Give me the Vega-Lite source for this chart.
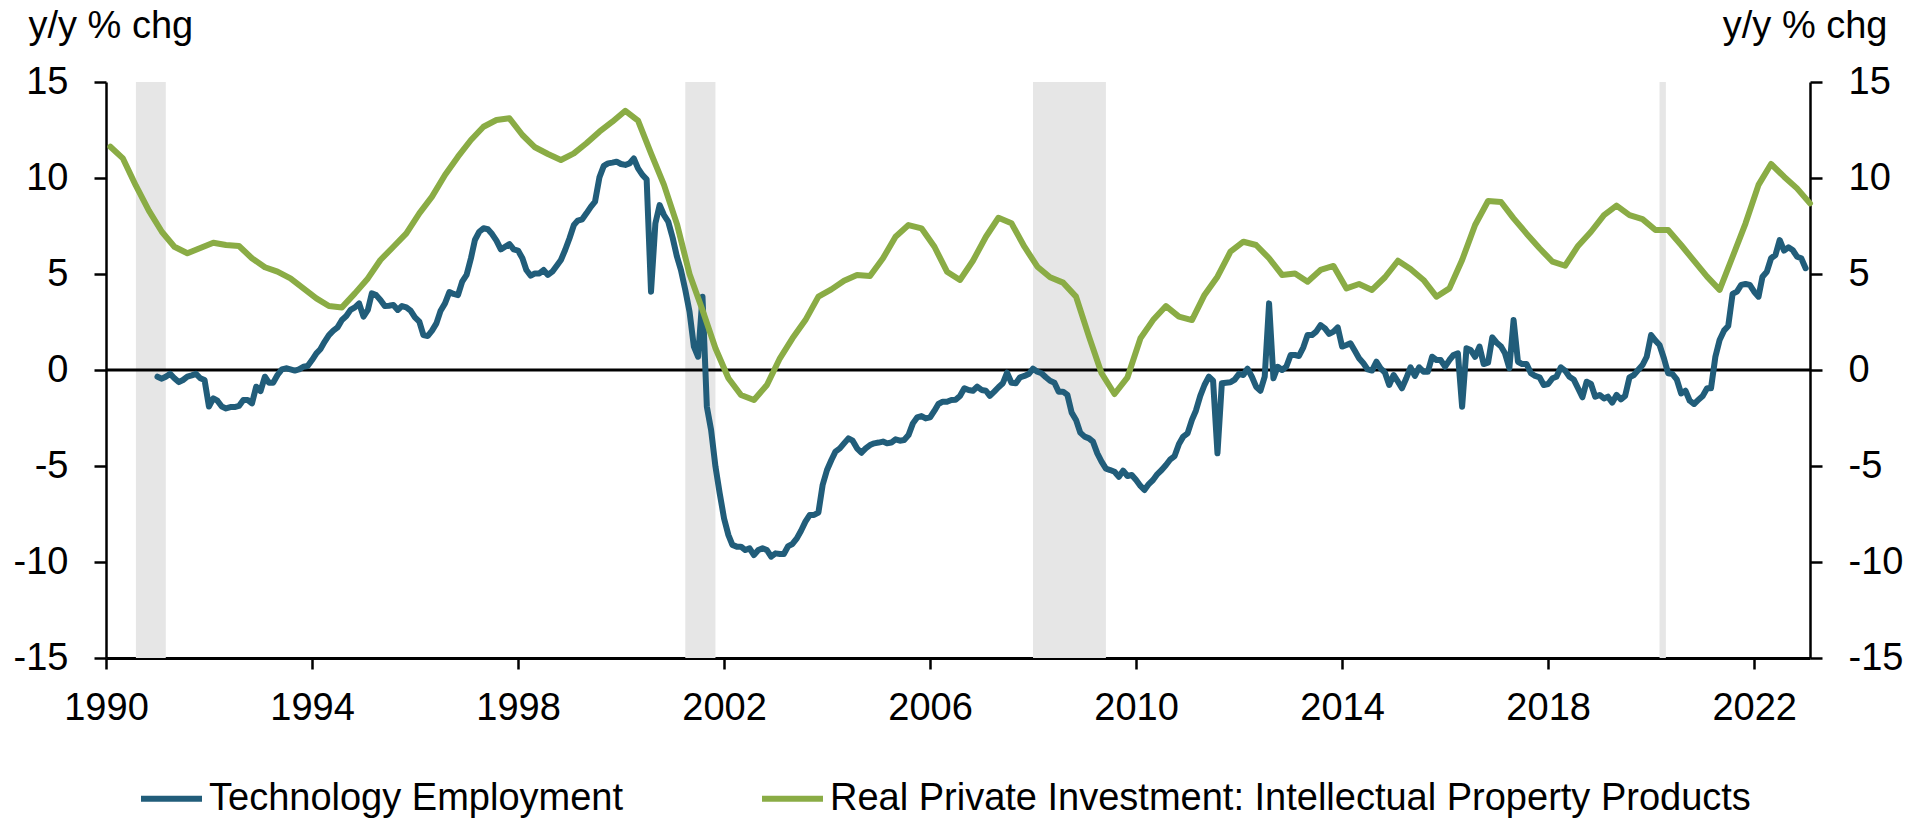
{
  "$schema": "https://vega.github.io/schema/vega-lite/v6.json",
  "width": 1704,
  "height": 576,
  "autosize": {"type": "none"},
  "padding": {"left": 106, "top": 82, "right": 113, "bottom": 163},
  "background": "white",
  "config": {
    "view": {"stroke": null},
    "font": "Liberation Sans",
    "axis": {
      "labelFont": "Liberation Sans",
      "labelFontSize": 38,
      "labelColor": "black",
      "domainColor": "black",
      "tickColor": "black",
      "grid": false,
      "titleFont": "Liberation Sans",
      "titleFontSize": 38,
      "titleFontWeight": "normal",
      "titleColor": "black"
    },
    "axisX": {
      "format": "%Y", "title": null, "tickSize": 11, "tickWidth": 2.5, "domainWidth": 3,
      "labelPadding": 20, "labelAngle": 0, "labelFlush": false, "labelOverlap": false
    }
  },
  "datasets": {
    "recessions": [
      {"start": "1990-08-01", "end": "1991-03-01"},
      {"start": "2001-04-01", "end": "2001-11-01"},
      {"start": "2008-01-01", "end": "2009-06-01"},
      {"start": "2020-03-01", "end": "2020-04-15"}
    ],
    "ipp": [
      {"date": "1990-02-01", "value": 11.63}, {"date": "1990-05-01", "value": 11.02}, {"date": "1990-08-01", "value": 9.6}, {"date": "1990-11-01", "value": 8.3},
      {"date": "1991-02-01", "value": 7.2}, {"date": "1991-05-01", "value": 6.42}, {"date": "1991-08-01", "value": 6.08}, {"date": "1991-11-01", "value": 6.35},
      {"date": "1992-02-01", "value": 6.63}, {"date": "1992-05-01", "value": 6.51}, {"date": "1992-08-01", "value": 6.46}, {"date": "1992-11-01", "value": 5.82},
      {"date": "1993-02-01", "value": 5.35}, {"date": "1993-05-01", "value": 5.12}, {"date": "1993-08-01", "value": 4.77}, {"date": "1993-11-01", "value": 4.25},
      {"date": "1994-02-01", "value": 3.73}, {"date": "1994-05-01", "value": 3.33}, {"date": "1994-08-01", "value": 3.26}, {"date": "1994-11-01", "value": 3.99},
      {"date": "1995-02-01", "value": 4.77}, {"date": "1995-05-01", "value": 5.73}, {"date": "1995-08-01", "value": 6.42}, {"date": "1995-11-01", "value": 7.12},
      {"date": "1996-02-01", "value": 8.16}, {"date": "1996-05-01", "value": 9.03}, {"date": "1996-08-01", "value": 10.16}, {"date": "1996-11-01", "value": 11.11},
      {"date": "1997-02-01", "value": 11.98}, {"date": "1997-05-01", "value": 12.67}, {"date": "1997-08-01", "value": 13.02}, {"date": "1997-11-01", "value": 13.11},
      {"date": "1998-02-01", "value": 12.24}, {"date": "1998-05-01", "value": 11.6}, {"date": "1998-08-01", "value": 11.25}, {"date": "1998-11-01", "value": 10.94},
      {"date": "1999-02-01", "value": 11.28}, {"date": "1999-05-01", "value": 11.81}, {"date": "1999-08-01", "value": 12.41}, {"date": "1999-11-01", "value": 12.93},
      {"date": "2000-02-01", "value": 13.5}, {"date": "2000-05-01", "value": 12.99}, {"date": "2000-08-01", "value": 11.28}, {"date": "2000-11-01", "value": 9.64},
      {"date": "2001-02-01", "value": 7.6}, {"date": "2001-05-01", "value": 5.0}, {"date": "2001-08-01", "value": 3.13}, {"date": "2001-11-01", "value": 1.13},
      {"date": "2002-02-01", "value": -0.43}, {"date": "2002-05-01", "value": -1.3}, {"date": "2002-08-01", "value": -1.56}, {"date": "2002-11-01", "value": -0.78},
      {"date": "2003-02-01", "value": 0.61}, {"date": "2003-05-01", "value": 1.65}, {"date": "2003-08-01", "value": 2.6}, {"date": "2003-11-01", "value": 3.82},
      {"date": "2004-02-01", "value": 4.2}, {"date": "2004-05-01", "value": 4.65}, {"date": "2004-08-01", "value": 4.95}, {"date": "2004-11-01", "value": 4.9},
      {"date": "2005-02-01", "value": 5.82}, {"date": "2005-05-01", "value": 6.94}, {"date": "2005-08-01", "value": 7.55}, {"date": "2005-11-01", "value": 7.38},
      {"date": "2006-02-01", "value": 6.42}, {"date": "2006-05-01", "value": 5.12}, {"date": "2006-08-01", "value": 4.69}, {"date": "2006-11-01", "value": 5.69},
      {"date": "2007-02-01", "value": 6.94}, {"date": "2007-05-01", "value": 7.93}, {"date": "2007-08-01", "value": 7.64}, {"date": "2007-11-01", "value": 6.42},
      {"date": "2008-02-01", "value": 5.38}, {"date": "2008-05-01", "value": 4.83}, {"date": "2008-08-01", "value": 4.55}, {"date": "2008-11-01", "value": 3.82},
      {"date": "2009-02-01", "value": 1.74}, {"date": "2009-05-01", "value": -0.17}, {"date": "2009-08-01", "value": -1.25}, {"date": "2009-11-01", "value": -0.38},
      {"date": "2010-02-01", "value": 1.65}, {"date": "2010-05-01", "value": 2.6}, {"date": "2010-08-01", "value": 3.33}, {"date": "2010-11-01", "value": 2.78},
      {"date": "2011-02-01", "value": 2.6}, {"date": "2011-05-01", "value": 3.91}, {"date": "2011-08-01", "value": 4.86}, {"date": "2011-11-01", "value": 6.16},
      {"date": "2012-02-01", "value": 6.68}, {"date": "2012-05-01", "value": 6.51}, {"date": "2012-08-01", "value": 5.82}, {"date": "2012-11-01", "value": 4.95},
      {"date": "2013-02-01", "value": 5.03}, {"date": "2013-05-01", "value": 4.6}, {"date": "2013-08-01", "value": 5.21}, {"date": "2013-11-01", "value": 5.42},
      {"date": "2014-02-01", "value": 4.25}, {"date": "2014-05-01", "value": 4.48}, {"date": "2014-08-01", "value": 4.17}, {"date": "2014-11-01", "value": 4.83},
      {"date": "2015-02-01", "value": 5.69}, {"date": "2015-05-01", "value": 5.26}, {"date": "2015-08-01", "value": 4.69}, {"date": "2015-11-01", "value": 3.82},
      {"date": "2016-02-01", "value": 4.25}, {"date": "2016-05-01", "value": 5.73}, {"date": "2016-08-01", "value": 7.55}, {"date": "2016-11-01", "value": 8.8},
      {"date": "2017-02-01", "value": 8.75}, {"date": "2017-05-01", "value": 7.9}, {"date": "2017-08-01", "value": 7.1}, {"date": "2017-11-01", "value": 6.34},
      {"date": "2018-02-01", "value": 5.64}, {"date": "2018-05-01", "value": 5.43}, {"date": "2018-08-01", "value": 6.46}, {"date": "2018-11-01", "value": 7.2},
      {"date": "2019-02-01", "value": 8.07}, {"date": "2019-05-01", "value": 8.56}, {"date": "2019-08-01", "value": 8.07}, {"date": "2019-11-01", "value": 7.86},
      {"date": "2020-02-01", "value": 7.29}, {"date": "2020-05-01", "value": 7.29}, {"date": "2020-08-01", "value": 6.51}, {"date": "2020-11-01", "value": 5.68},
      {"date": "2021-02-01", "value": 4.86}, {"date": "2021-05-01", "value": 4.17}, {"date": "2021-08-01", "value": 5.9}, {"date": "2021-11-01", "value": 7.64},
      {"date": "2022-02-01", "value": 9.64}, {"date": "2022-05-01", "value": 10.73}, {"date": "2022-08-01", "value": 10.07}, {"date": "2022-11-01", "value": 9.46},
      {"date": "2023-02-01", "value": 8.68}
    ],
    "tech": [
      {"date": "1991-01-01", "value": -0.35}, {"date": "1991-02-01", "value": -0.45}, {"date": "1991-03-01", "value": -0.35}, {"date": "1991-04-01", "value": -0.2}, {"date": "1991-05-01", "value": -0.43}, {"date": "1991-06-01", "value": -0.63}, {"date": "1991-07-01", "value": -0.52}, {"date": "1991-08-01", "value": -0.35}, {"date": "1991-09-01", "value": -0.28}, {"date": "1991-10-01", "value": -0.2}, {"date": "1991-11-01", "value": -0.43}, {"date": "1991-12-01", "value": -0.52},
      {"date": "1992-01-01", "value": -1.9}, {"date": "1992-02-01", "value": -1.48}, {"date": "1992-03-01", "value": -1.6}, {"date": "1992-04-01", "value": -1.9}, {"date": "1992-05-01", "value": -2.0}, {"date": "1992-06-01", "value": -1.93}, {"date": "1992-07-01", "value": -1.93}, {"date": "1992-08-01", "value": -1.87}, {"date": "1992-09-01", "value": -1.56}, {"date": "1992-10-01", "value": -1.56}, {"date": "1992-11-01", "value": -1.74}, {"date": "1992-12-01", "value": -0.87},
      {"date": "1993-01-01", "value": -1.1}, {"date": "1993-02-01", "value": -0.35}, {"date": "1993-03-01", "value": -0.66}, {"date": "1993-04-01", "value": -0.66}, {"date": "1993-05-01", "value": -0.26}, {"date": "1993-06-01", "value": 0.03}, {"date": "1993-07-01", "value": 0.09}, {"date": "1993-08-01", "value": 0.03}, {"date": "1993-09-01", "value": -0.03}, {"date": "1993-10-01", "value": 0.03}, {"date": "1993-11-01", "value": 0.17}, {"date": "1993-12-01", "value": 0.21},
      {"date": "1994-01-01", "value": 0.52}, {"date": "1994-02-01", "value": 0.87}, {"date": "1994-03-01", "value": 1.08}, {"date": "1994-04-01", "value": 1.48}, {"date": "1994-05-01", "value": 1.82}, {"date": "1994-06-01", "value": 2.05}, {"date": "1994-07-01", "value": 2.22}, {"date": "1994-08-01", "value": 2.6}, {"date": "1994-09-01", "value": 2.81}, {"date": "1994-10-01", "value": 3.13}, {"date": "1994-11-01", "value": 3.26}, {"date": "1994-12-01", "value": 3.47},
      {"date": "1995-01-01", "value": 2.78}, {"date": "1995-02-01", "value": 3.13}, {"date": "1995-03-01", "value": 3.99}, {"date": "1995-04-01", "value": 3.9}, {"date": "1995-05-01", "value": 3.65}, {"date": "1995-06-01", "value": 3.33}, {"date": "1995-07-01", "value": 3.35}, {"date": "1995-08-01", "value": 3.39}, {"date": "1995-09-01", "value": 3.13}, {"date": "1995-10-01", "value": 3.33}, {"date": "1995-11-01", "value": 3.26}, {"date": "1995-12-01", "value": 3.09},
      {"date": "1996-01-01", "value": 2.74}, {"date": "1996-02-01", "value": 2.52}, {"date": "1996-03-01", "value": 1.82}, {"date": "1996-04-01", "value": 1.77}, {"date": "1996-05-01", "value": 2.05}, {"date": "1996-06-01", "value": 2.43}, {"date": "1996-07-01", "value": 3.09}, {"date": "1996-08-01", "value": 3.47}, {"date": "1996-09-01", "value": 4.06}, {"date": "1996-10-01", "value": 3.96}, {"date": "1996-11-01", "value": 3.9}, {"date": "1996-12-01", "value": 4.6},
      {"date": "1997-01-01", "value": 4.95}, {"date": "1997-02-01", "value": 5.82}, {"date": "1997-03-01", "value": 6.77}, {"date": "1997-04-01", "value": 7.2}, {"date": "1997-05-01", "value": 7.38}, {"date": "1997-06-01", "value": 7.33}, {"date": "1997-07-01", "value": 7.08}, {"date": "1997-08-01", "value": 6.74}, {"date": "1997-09-01", "value": 6.28}, {"date": "1997-10-01", "value": 6.42}, {"date": "1997-11-01", "value": 6.56}, {"date": "1997-12-01", "value": 6.28},
      {"date": "1998-01-01", "value": 6.22}, {"date": "1998-02-01", "value": 5.82}, {"date": "1998-03-01", "value": 5.21}, {"date": "1998-04-01", "value": 4.91}, {"date": "1998-05-01", "value": 5.03}, {"date": "1998-06-01", "value": 5.03}, {"date": "1998-07-01", "value": 5.21}, {"date": "1998-08-01", "value": 4.95}, {"date": "1998-09-01", "value": 5.12}, {"date": "1998-10-01", "value": 5.42}, {"date": "1998-11-01", "value": 5.73}, {"date": "1998-12-01", "value": 6.25},
      {"date": "1999-01-01", "value": 6.86}, {"date": "1999-02-01", "value": 7.55}, {"date": "1999-03-01", "value": 7.78}, {"date": "1999-04-01", "value": 7.85}, {"date": "1999-05-01", "value": 8.16}, {"date": "1999-06-01", "value": 8.5}, {"date": "1999-07-01", "value": 8.77}, {"date": "1999-08-01", "value": 10.03}, {"date": "1999-09-01", "value": 10.63}, {"date": "1999-10-01", "value": 10.76}, {"date": "1999-11-01", "value": 10.8}, {"date": "1999-12-01", "value": 10.85},
      {"date": "2000-01-01", "value": 10.73}, {"date": "2000-02-01", "value": 10.68}, {"date": "2000-03-01", "value": 10.76}, {"date": "2000-04-01", "value": 11.02}, {"date": "2000-05-01", "value": 10.5}, {"date": "2000-06-01", "value": 10.16}, {"date": "2000-07-01", "value": 9.93}, {"date": "2000-08-01", "value": 4.08}, {"date": "2000-09-01", "value": 7.64}, {"date": "2000-10-01", "value": 8.59}, {"date": "2000-11-01", "value": 8.07}, {"date": "2000-12-01", "value": 7.73},
      {"date": "2001-01-01", "value": 6.9}, {"date": "2001-02-01", "value": 5.9}, {"date": "2001-03-01", "value": 5.21}, {"date": "2001-04-01", "value": 4.17}, {"date": "2001-05-01", "value": 3.04}, {"date": "2001-06-01", "value": 1.22}, {"date": "2001-07-01", "value": 0.69}, {"date": "2001-08-01", "value": 3.82}, {"date": "2001-09-01", "value": -1.91}, {"date": "2001-10-01", "value": -3.12}, {"date": "2001-11-01", "value": -5.03}, {"date": "2001-12-01", "value": -6.42},
      {"date": "2002-01-01", "value": -7.73}, {"date": "2002-02-01", "value": -8.6}, {"date": "2002-03-01", "value": -9.11}, {"date": "2002-04-01", "value": -9.2}, {"date": "2002-05-01", "value": -9.2}, {"date": "2002-06-01", "value": -9.38}, {"date": "2002-07-01", "value": -9.29}, {"date": "2002-08-01", "value": -9.64}, {"date": "2002-09-01", "value": -9.38}, {"date": "2002-10-01", "value": -9.29}, {"date": "2002-11-01", "value": -9.38}, {"date": "2002-12-01", "value": -9.72},
      {"date": "2003-01-01", "value": -9.55}, {"date": "2003-02-01", "value": -9.58}, {"date": "2003-03-01", "value": -9.58}, {"date": "2003-04-01", "value": -9.17}, {"date": "2003-05-01", "value": -9.06}, {"date": "2003-06-01", "value": -8.77}, {"date": "2003-07-01", "value": -8.37}, {"date": "2003-08-01", "value": -7.9}, {"date": "2003-09-01", "value": -7.55}, {"date": "2003-10-01", "value": -7.55}, {"date": "2003-11-01", "value": -7.43}, {"date": "2003-12-01", "value": -5.99},
      {"date": "2004-01-01", "value": -5.21}, {"date": "2004-02-01", "value": -4.69}, {"date": "2004-03-01", "value": -4.25}, {"date": "2004-04-01", "value": -4.08}, {"date": "2004-05-01", "value": -3.82}, {"date": "2004-06-01", "value": -3.56}, {"date": "2004-07-01", "value": -3.68}, {"date": "2004-08-01", "value": -4.08}, {"date": "2004-09-01", "value": -4.31}, {"date": "2004-10-01", "value": -4.08}, {"date": "2004-11-01", "value": -3.91}, {"date": "2004-12-01", "value": -3.82},
      {"date": "2005-01-01", "value": -3.78}, {"date": "2005-02-01", "value": -3.73}, {"date": "2005-03-01", "value": -3.82}, {"date": "2005-04-01", "value": -3.78}, {"date": "2005-05-01", "value": -3.61}, {"date": "2005-06-01", "value": -3.68}, {"date": "2005-07-01", "value": -3.65}, {"date": "2005-08-01", "value": -3.39}, {"date": "2005-09-01", "value": -2.78}, {"date": "2005-10-01", "value": -2.47}, {"date": "2005-11-01", "value": -2.4}, {"date": "2005-12-01", "value": -2.52},
      {"date": "2006-01-01", "value": -2.47}, {"date": "2006-02-01", "value": -2.12}, {"date": "2006-03-01", "value": -1.77}, {"date": "2006-04-01", "value": -1.65}, {"date": "2006-05-01", "value": -1.65}, {"date": "2006-06-01", "value": -1.56}, {"date": "2006-07-01", "value": -1.55}, {"date": "2006-08-01", "value": -1.35}, {"date": "2006-09-01", "value": -0.95}, {"date": "2006-10-01", "value": -1.04}, {"date": "2006-11-01", "value": -1.08}, {"date": "2006-12-01", "value": -0.87},
      {"date": "2007-01-01", "value": -1.04}, {"date": "2007-02-01", "value": -1.08}, {"date": "2007-03-01", "value": -1.35}, {"date": "2007-04-01", "value": -1.13}, {"date": "2007-05-01", "value": -0.9}, {"date": "2007-06-01", "value": -0.69}, {"date": "2007-07-01", "value": -0.14}, {"date": "2007-08-01", "value": -0.66}, {"date": "2007-09-01", "value": -0.69}, {"date": "2007-10-01", "value": -0.38}, {"date": "2007-11-01", "value": -0.31}, {"date": "2007-12-01", "value": -0.21},
      {"date": "2008-01-01", "value": 0.07}, {"date": "2008-02-01", "value": -0.09}, {"date": "2008-03-01", "value": -0.17}, {"date": "2008-04-01", "value": -0.38}, {"date": "2008-05-01", "value": -0.56}, {"date": "2008-06-01", "value": -0.66}, {"date": "2008-07-01", "value": -1.13}, {"date": "2008-08-01", "value": -1.13}, {"date": "2008-09-01", "value": -1.3}, {"date": "2008-10-01", "value": -2.22}, {"date": "2008-11-01", "value": -2.6}, {"date": "2008-12-01", "value": -3.26},
      {"date": "2009-01-01", "value": -3.47}, {"date": "2009-02-01", "value": -3.56}, {"date": "2009-03-01", "value": -3.73}, {"date": "2009-04-01", "value": -4.34}, {"date": "2009-05-01", "value": -4.77}, {"date": "2009-06-01", "value": -5.14}, {"date": "2009-07-01", "value": -5.21}, {"date": "2009-08-01", "value": -5.3}, {"date": "2009-09-01", "value": -5.56}, {"date": "2009-10-01", "value": -5.24}, {"date": "2009-11-01", "value": -5.52}, {"date": "2009-12-01", "value": -5.47},
      {"date": "2010-01-01", "value": -5.73}, {"date": "2010-02-01", "value": -6.04}, {"date": "2010-03-01", "value": -6.25}, {"date": "2010-04-01", "value": -5.94}, {"date": "2010-05-01", "value": -5.73}, {"date": "2010-06-01", "value": -5.42}, {"date": "2010-07-01", "value": -5.21}, {"date": "2010-08-01", "value": -4.95}, {"date": "2010-09-01", "value": -4.65}, {"date": "2010-10-01", "value": -4.48}, {"date": "2010-11-01", "value": -3.85}, {"date": "2010-12-01", "value": -3.47},
      {"date": "2011-01-01", "value": -3.3}, {"date": "2011-02-01", "value": -2.6}, {"date": "2011-03-01", "value": -2.12}, {"date": "2011-04-01", "value": -1.35}, {"date": "2011-05-01", "value": -0.78}, {"date": "2011-06-01", "value": -0.35}, {"date": "2011-07-01", "value": -0.56}, {"date": "2011-08-01", "value": -4.34}, {"date": "2011-09-01", "value": -0.69}, {"date": "2011-10-01", "value": -0.66}, {"date": "2011-11-01", "value": -0.64}, {"date": "2011-12-01", "value": -0.5},
      {"date": "2012-01-01", "value": -0.2}, {"date": "2012-02-01", "value": -0.26}, {"date": "2012-03-01", "value": 0.07}, {"date": "2012-04-01", "value": -0.35}, {"date": "2012-05-01", "value": -0.87}, {"date": "2012-06-01", "value": -1.08}, {"date": "2012-07-01", "value": -0.35}, {"date": "2012-08-01", "value": 3.47}, {"date": "2012-09-01", "value": -0.43}, {"date": "2012-10-01", "value": 0.17}, {"date": "2012-11-01", "value": 0.0}, {"date": "2012-12-01", "value": 0.17},
      {"date": "2013-01-01", "value": 0.78}, {"date": "2013-02-01", "value": 0.78}, {"date": "2013-03-01", "value": 0.73}, {"date": "2013-04-01", "value": 1.18}, {"date": "2013-05-01", "value": 1.82}, {"date": "2013-06-01", "value": 1.82}, {"date": "2013-07-01", "value": 2.0}, {"date": "2013-08-01", "value": 2.34}, {"date": "2013-09-01", "value": 2.17}, {"date": "2013-10-01", "value": 1.88}, {"date": "2013-11-01", "value": 2.0}, {"date": "2013-12-01", "value": 2.22},
      {"date": "2014-01-01", "value": 1.22}, {"date": "2014-02-01", "value": 1.3}, {"date": "2014-03-01", "value": 1.39}, {"date": "2014-04-01", "value": 1.0}, {"date": "2014-05-01", "value": 0.61}, {"date": "2014-06-01", "value": 0.35}, {"date": "2014-07-01", "value": 0.03}, {"date": "2014-08-01", "value": -0.03}, {"date": "2014-09-01", "value": 0.43}, {"date": "2014-10-01", "value": 0.09}, {"date": "2014-11-01", "value": -0.14}, {"date": "2014-12-01", "value": -0.78},
      {"date": "2015-01-01", "value": -0.26}, {"date": "2015-02-01", "value": -0.61}, {"date": "2015-03-01", "value": -0.95}, {"date": "2015-04-01", "value": -0.43}, {"date": "2015-05-01", "value": 0.14}, {"date": "2015-06-01", "value": -0.31}, {"date": "2015-07-01", "value": 0.14}, {"date": "2015-08-01", "value": -0.09}, {"date": "2015-09-01", "value": -0.09}, {"date": "2015-10-01", "value": 0.69}, {"date": "2015-11-01", "value": 0.52}, {"date": "2015-12-01", "value": 0.52},
      {"date": "2016-01-01", "value": 0.17}, {"date": "2016-02-01", "value": 0.52}, {"date": "2016-03-01", "value": 0.78}, {"date": "2016-04-01", "value": 0.87}, {"date": "2016-05-01", "value": -1.91}, {"date": "2016-06-01", "value": 1.13}, {"date": "2016-07-01", "value": 1.04}, {"date": "2016-08-01", "value": 0.69}, {"date": "2016-09-01", "value": 1.22}, {"date": "2016-10-01", "value": 0.31}, {"date": "2016-11-01", "value": 0.38}, {"date": "2016-12-01", "value": 1.7},
      {"date": "2017-01-01", "value": 1.42}, {"date": "2017-02-01", "value": 1.22}, {"date": "2017-03-01", "value": 0.87}, {"date": "2017-04-01", "value": 0.09}, {"date": "2017-05-01", "value": 2.6}, {"date": "2017-06-01", "value": 0.43}, {"date": "2017-07-01", "value": 0.31}, {"date": "2017-08-01", "value": 0.31}, {"date": "2017-09-01", "value": -0.17}, {"date": "2017-10-01", "value": -0.31}, {"date": "2017-11-01", "value": -0.38}, {"date": "2017-12-01", "value": -0.78},
      {"date": "2018-01-01", "value": -0.73}, {"date": "2018-02-01", "value": -0.43}, {"date": "2018-03-01", "value": -0.35}, {"date": "2018-04-01", "value": 0.14}, {"date": "2018-05-01", "value": -0.03}, {"date": "2018-06-01", "value": -0.35}, {"date": "2018-07-01", "value": -0.49}, {"date": "2018-08-01", "value": -0.95}, {"date": "2018-09-01", "value": -1.42}, {"date": "2018-10-01", "value": -0.61}, {"date": "2018-11-01", "value": -0.73}, {"date": "2018-12-01", "value": -1.39},
      {"date": "2019-01-01", "value": -1.3}, {"date": "2019-02-01", "value": -1.48}, {"date": "2019-03-01", "value": -1.39}, {"date": "2019-04-01", "value": -1.7}, {"date": "2019-05-01", "value": -1.3}, {"date": "2019-06-01", "value": -1.53}, {"date": "2019-07-01", "value": -1.35}, {"date": "2019-08-01", "value": -0.38}, {"date": "2019-09-01", "value": -0.26}, {"date": "2019-10-01", "value": 0.0}, {"date": "2019-11-01", "value": 0.26}, {"date": "2019-12-01", "value": 0.69},
      {"date": "2020-01-01", "value": 1.82}, {"date": "2020-02-01", "value": 1.53}, {"date": "2020-03-01", "value": 1.3}, {"date": "2020-04-01", "value": 0.61}, {"date": "2020-05-01", "value": -0.17}, {"date": "2020-06-01", "value": -0.21}, {"date": "2020-07-01", "value": -0.49}, {"date": "2020-08-01", "value": -1.22}, {"date": "2020-09-01", "value": -1.08}, {"date": "2020-10-01", "value": -1.6}, {"date": "2020-11-01", "value": -1.77}, {"date": "2020-12-01", "value": -1.56},
      {"date": "2021-01-01", "value": -1.35}, {"date": "2021-02-01", "value": -0.95}, {"date": "2021-03-01", "value": -0.95}, {"date": "2021-04-01", "value": 0.69}, {"date": "2021-05-01", "value": 1.56}, {"date": "2021-06-01", "value": 2.05}, {"date": "2021-07-01", "value": 2.29}, {"date": "2021-08-01", "value": 3.96}, {"date": "2021-09-01", "value": 4.08}, {"date": "2021-10-01", "value": 4.43}, {"date": "2021-11-01", "value": 4.48}, {"date": "2021-12-01", "value": 4.43},
      {"date": "2022-01-01", "value": 4.08}, {"date": "2022-02-01", "value": 3.82}, {"date": "2022-03-01", "value": 4.86}, {"date": "2022-04-01", "value": 5.12}, {"date": "2022-05-01", "value": 5.82}, {"date": "2022-06-01", "value": 5.99}, {"date": "2022-07-01", "value": 6.77}, {"date": "2022-08-01", "value": 6.22}, {"date": "2022-09-01", "value": 6.39}, {"date": "2022-10-01", "value": 6.25}, {"date": "2022-11-01", "value": 5.9}, {"date": "2022-12-01", "value": 5.82},
      {"date": "2023-01-01", "value": 5.3}
    ]
  },
  "layer": [
    {
      "data": {"name": "recessions"},
      "mark": {"type": "rect", "color": "#e6e6e6"},
      "encoding": {
        "x": {
          "field": "start", "type": "temporal", "title": null,
          "scale": {"domain": [{"year": 1990, "month": 1, "date": 1}, {"year": 2023, "month": 2, "date": 1}]},
          "axis": {
            "values": [{"year": 1990, "month": 1, "date": 1}, {"year": 1994, "month": 1, "date": 1}, {"year": 1998, "month": 1, "date": 1}, {"year": 2002, "month": 1, "date": 1}, {"year": 2006, "month": 1, "date": 1}, {"year": 2010, "month": 1, "date": 1}, {"year": 2014, "month": 1, "date": 1}, {"year": 2018, "month": 1, "date": 1}, {"year": 2022, "month": 1, "date": 1}],
            "format": "%Y", "title": null
          }
        },
        "x2": {"field": "end"}
      }
    },
    {
      "data": {"values": [{"level": 0}]},
      "mark": {"type": "rule", "color": "black", "strokeWidth": 3},
      "encoding": {
        "y": {
          "field": "level", "type": "quantitative",
          "scale": {"domain": [-15, 15], "nice": false, "zero": false},
          "axis": {
            "orient": "right", "values": [-15, -10, -5, 0, 5, 10, 15],
            "labelExpr": "datum.value < 0 ? '-' + abs(datum.value) : '' + datum.value",
            "title": "y/y % chg", "titleAngle": 0, "titleX": 77, "titleY": -45,
            "titleAlign": "right", "titleBaseline": "alphabetic",
            "tickSize": 12, "tickWidth": 2.5, "domainWidth": 2.5, "labelPadding": 26
          }
        }
      }
    },
    {
      "data": {"name": "tech"},
      "mark": {"type": "line", "strokeWidth": 6, "strokeJoin": "round", "strokeCap": "round"},
      "encoding": {
        "x": {
          "field": "date", "type": "temporal", "title": null,
          "axis": {
            "values": [{"year": 1990, "month": 1, "date": 1}, {"year": 1994, "month": 1, "date": 1}, {"year": 1998, "month": 1, "date": 1}, {"year": 2002, "month": 1, "date": 1}, {"year": 2006, "month": 1, "date": 1}, {"year": 2010, "month": 1, "date": 1}, {"year": 2014, "month": 1, "date": 1}, {"year": 2018, "month": 1, "date": 1}, {"year": 2022, "month": 1, "date": 1}],
            "format": "%Y", "title": null
          }
        },
        "y": {
          "field": "value", "type": "quantitative",
          "scale": {"domain": [-15, 15], "nice": false, "zero": false},
          "axis": {
            "orient": "left", "values": [-15, -10, -5, 0, 5, 10, 15],
            "labelExpr": "datum.value < 0 ? '-' + abs(datum.value) : '' + datum.value",
            "title": "y/y % chg", "titleAngle": 0, "titleX": -78, "titleY": -45,
            "titleAlign": "left", "titleBaseline": "alphabetic",
            "tickSize": 12, "tickWidth": 2.5, "domainWidth": 2.5, "labelPadding": 26
          }
        },
        "color": {
          "datum": "Technology Employment",
          "scale": {
            "domain": ["Technology Employment", "Real Private Investment: Intellectual Property Products"],
            "range": ["#215d7a", "#8aac45"]
          },
          "legend": {
            "orient": "none", "legendX": 32, "legendY": 683, "direction": "horizontal",
            "title": null, "symbolType": "stroke", "symbolStrokeWidth": 6, "symbolSize": 3721,
            "labelFont": "Liberation Sans", "labelFontSize": 38, "labelColor": "black",
            "labelOffset": 4, "columnPadding": 127, "padding": 0, "labelLimit": 2000
          }
        }
      }
    },
    {
      "data": {"name": "ipp"},
      "mark": {"type": "line", "strokeWidth": 6, "strokeJoin": "round", "strokeCap": "round"},
      "encoding": {
        "x": {
          "field": "date", "type": "temporal", "title": null,
          "axis": {
            "values": [{"year": 1990, "month": 1, "date": 1}, {"year": 1994, "month": 1, "date": 1}, {"year": 1998, "month": 1, "date": 1}, {"year": 2002, "month": 1, "date": 1}, {"year": 2006, "month": 1, "date": 1}, {"year": 2010, "month": 1, "date": 1}, {"year": 2014, "month": 1, "date": 1}, {"year": 2018, "month": 1, "date": 1}, {"year": 2022, "month": 1, "date": 1}],
            "format": "%Y", "title": null
          }
        },
        "y": {"field": "value", "type": "quantitative", "axis": null},
        "color": {"datum": "Real Private Investment: Intellectual Property Products"}
      }
    }
  ],
  "resolve": {"axis": {"y": "independent"}}
}
